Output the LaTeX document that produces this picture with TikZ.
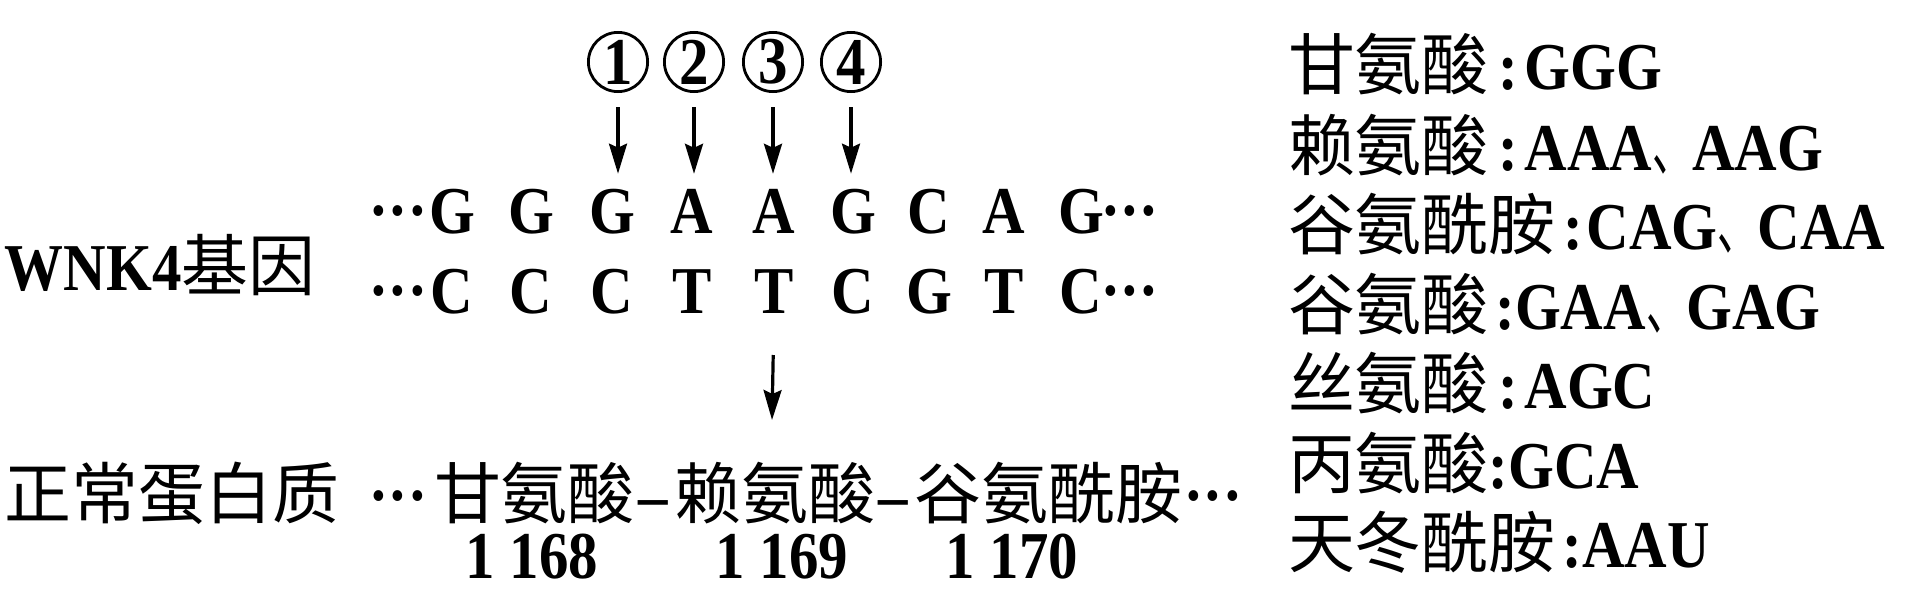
\documentclass[tikz,border=0pt]{standalone}
\usepackage{fontspec}
\setmainfont{Liberation Serif}[FakeStretch=0.88]
\newfontfamily\cjk{Noto Sans CJK SC}
\newfontfamily\cjkn{Noto Sans CJK SC}[FakeStretch=0.6]
\usetikzlibrary{arrows.meta}
\newcommand\fsz{\fontsize{47.6pt}{57pt}\selectfont}
\newcommand\mydots{\raisebox{0.26em}{\bfseries .\kern0.07em.\kern0.07em.}}
\newcommand\dun{{\cjkn 、}}
\tikzset{
  lbl/.style={inner sep=0pt, outer sep=0pt, font=\fsz},
  nt/.style={inner sep=0pt, outer sep=0pt, font=\fsz\bfseries},
  dts/.style={inner sep=0pt, outer sep=0pt, font=\fsz},
  circ/.style={circle, draw, line width=0.7mm, minimum size=14.8mm, inner sep=0pt, font=\fsz\bfseries},
  arr/.style={line width=0.8mm, -{Stealth[length=7.5mm,width=4.5mm,inset=1mm]}}
}
\begin{document}
\begin{tikzpicture}[x=0.025cm, y=-0.025cm]
\useasboundingbox (0,0) rectangle (1910,611);
% circled numbers
\node[circ] (c1) at (618,62) {1};
\node[circ] (c2) at (694,62) {2};
\node[circ] (c3) at (773,62) {3};
\node[circ] (c4) at (851,62) {4};
% strands
\foreach \i/\x/\t/\b in {1/452/G/C, 2/531/G/C, 3/612/G/C, 4/692/A/T, 5/774/A/T, 6/853/G/C, 7/929/C/G, 8/1004/A/T, 9/1081/G/C} {
  \node[nt, anchor=base] (t\i) at (\x,233) {\t};
  \node[nt, anchor=base] (b\i) at (\x,313) {\b};
}
\node[dts, anchor=base east] (tl) at (425,233) {\mydots};
\node[dts, anchor=base west] (tr) at (1103,233) {\mydots};
\node[dts, anchor=base east] (bl) at (425,313) {\mydots};
\node[dts, anchor=base west] (br) at (1103,313) {\mydots};
\node[lbl, anchor=base west] (wnk) at (5,290) {\textbf{WNK4}{\cjk 基因}};
% arrows to strand
\foreach \i/\j in {1/3,2/4,3/5,4/6}
  \draw[arr, shorten <=3.5mm, shorten >=3.75mm] (c\i.south) -- (c\i.south |- t\j.north);
% arrow to protein
\coordinate (me) at (772,420);
\draw[arr, shorten <=10.5mm] (b5.south) -- (me);
% protein line
\node[lbl, anchor=base west] (zc) at (5,518) {\cjk 正常蛋白质};
\node[dts, anchor=base east] (pl) at (425,518) {\mydots};
\node[lbl, anchor=base west] (prot) at (434,518) {{\cjk 甘氨酸}\kern0.05em\textbf{–}\kern0.1em{\cjk 赖氨酸}\kern0.04em\textbf{–}\kern0.1em{\cjk 谷氨酰胺}};
\node[dts, anchor=base west] (pr) at ([xshift=1mm]prot.base east) {\mydots};
% numbers
\node[nt, anchor=base] (n1) at (532,578) {1 168};
\node[nt, anchor=base] (n2) at (782,578) {1 169};
\node[nt, anchor=base] (n3) at (1012,578) {1 170};
% codon table
\node[lbl, anchor=base west] (r1) at (1288,90) {{\cjk 甘氨酸}\kern0.15em\textbf{:}\kern0.09em\textbf{GGG}};
\node[lbl, anchor=base west] (r2) at (1288,170) {{\cjk 赖氨酸}\kern0.15em\textbf{:}\kern0.09em\textbf{AAA}\dun\textbf{AAG}};
\node[lbl, anchor=base west] (r3) at (1288,249) {{\cjk 谷氨酰胺}\kern0.12em\textbf{:}\kern0.05em\textbf{CAG}\dun\textbf{CAA}};
\node[lbl, anchor=base west] (r4) at (1288,329) {{\cjk 谷氨酸}\kern0.1em\textbf{:}\textbf{GAA}\dun\textbf{GAG}};
\node[lbl, anchor=base west] (r5) at (1288,408) {{\cjk 丝氨酸}\kern0.15em\textbf{:}\kern0.09em\textbf{AGC}};
\node[lbl, anchor=base west] (r6) at (1288,488) {{\cjk 丙氨酸}\textbf{:}\textbf{GCA}};
\node[lbl, anchor=base west] (r7) at (1288,567) {{\cjk 天冬酰胺}\kern0.1em\textbf{:}\textbf{AAU}};
\end{tikzpicture}
\end{document}
